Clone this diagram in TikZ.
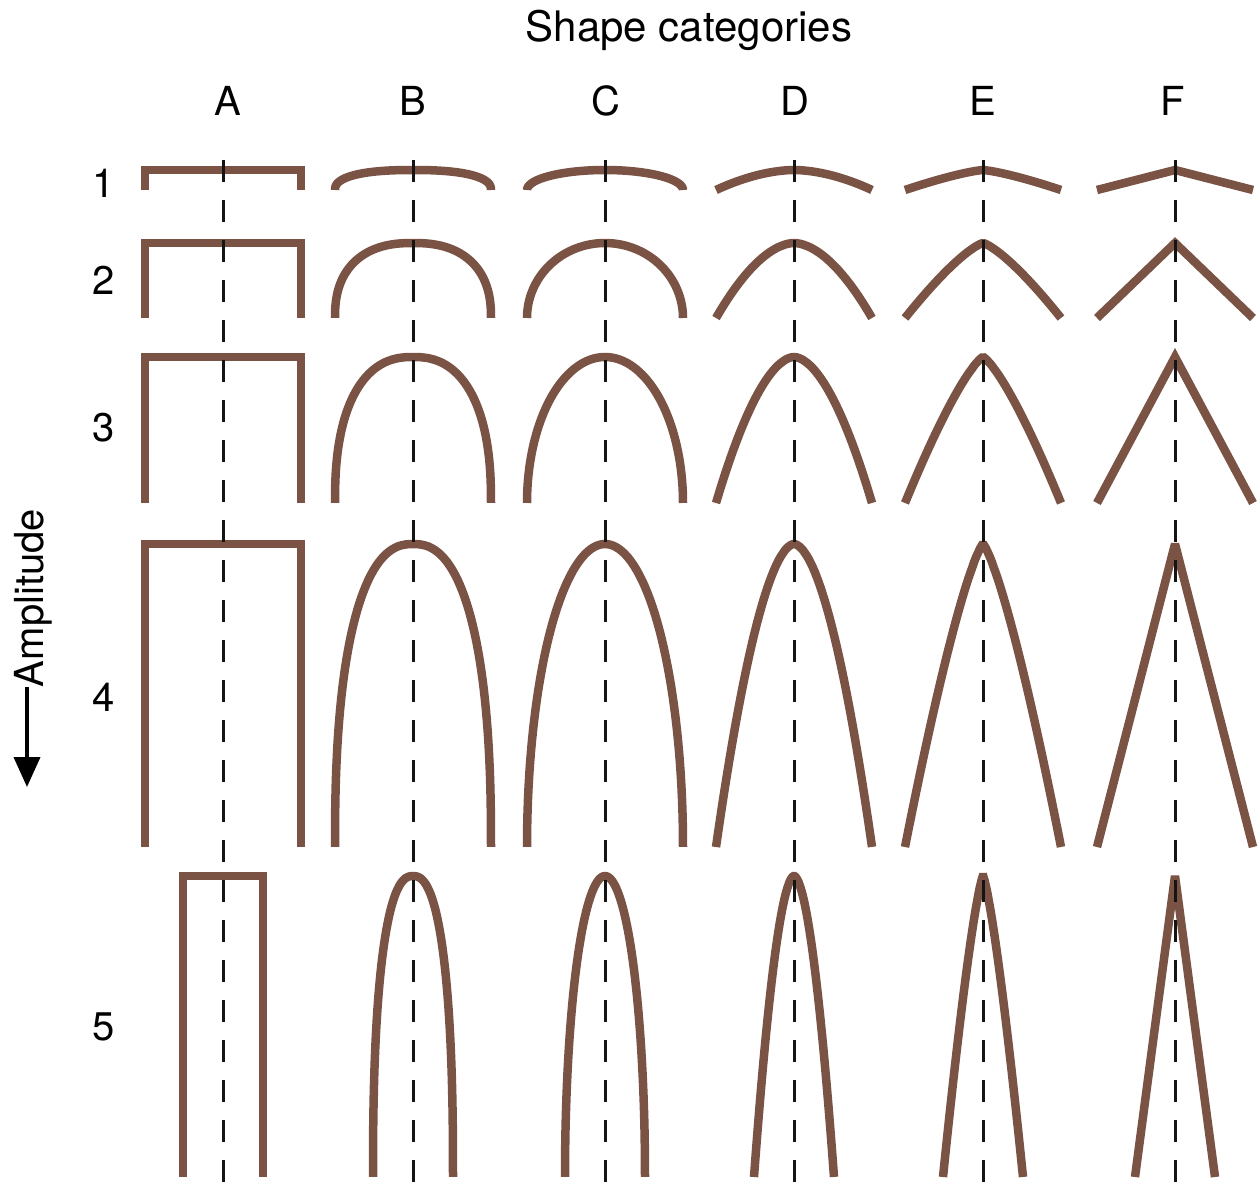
\documentclass[tikz,border=0pt]{standalone}
\usepackage{fontspec}
\setmainfont{TeX Gyre Heros}
\usepackage{tikz}
\usetikzlibrary{arrows.meta}
\definecolor{shapebrown}{HTML}{7B5344}
\definecolor{guidegrey}{HTML}{141414}
\newcommand{\lblfont}{\fontsize{40}{46}\selectfont}

\begin{document}
\begin{tikzpicture}[x=1pt, y=-1pt,
  lbl/.style={inner sep=0pt, font=\lblfont},
  shp/.style={draw=shapebrown, line width=8.5pt},
  guide/.style={draw=guidegrey, line width=3pt, dash pattern=on 22pt off 18pt},
  ampArrow/.style={line width=4pt, -{Triangle[width=26pt,length=30pt]}}
]
\useasboundingbox (0,0) rectangle (1258,1192);
% headings
\node[lbl, font=\fontsize{42}{48}\selectfont] (title) at (689,30) {Shape categories};
\foreach \c/\xc in {A/228, B/413, C/606, D/795, E/983, F/1173}
  \node[lbl] (col\c) at (\xc,101) {\c};
\foreach \r/\yr in {1/183, 2/280, 3/428, 4/697, 5/1027}
  \node[lbl] (row\r) at (104,\yr) {\r};
% amplitude axis
\node[lbl, rotate=90] (amp) at (33,598) {Amplitude};
\coordinate (ampTip) at (27,787);
\draw[ampArrow] (amp.west -| ampTip) -- (ampTip);
% shapes, one row at a time
\foreach \yt/\yb/\w in {170/190/78, 243/318/78, 357/503/78, 544/847/78, 876/1177/40} {
  \pgfmathsetmacro\h{\yb-\yt}
  % A: open box
  \draw[shp] ({223-\w},\yb) -- ({223-\w},\yt) -- ({223+\w},\yt) -- ({223+\w},\yb);
  % B, C: superellipse arches
  \foreach \cx/\n in {413/2.4, 605/2}
    \draw[shp] plot[domain=0.01:179.99, samples=80, variable=\t]
      ({\cx+\w*cos(\t)/abs(cos(\t))*pow(abs(cos(\t)),2/\n)}, {\yb-\h*pow(sin(\t),2/\n)});
  % D, E: power curves
  \foreach \cx/\p in {794/1.8, 983/1.3}
    \draw[shp] plot[domain=-1:1, samples=80, variable=\u]
      ({\cx+\w*\u}, {\yt+\h*pow(abs(\u),\p)});
  % F: straight sides
  \draw[shp, miter limit=3] ({1175-\w},\yb) -- (1175,\yt) -- ({1175+\w},\yb);
}
% centre lines
\foreach \c/\xc in {A/223, B/413, C/605, D/794, E/983, F/1175} {
  \coordinate (top\c) at (\xc,160);
  \coordinate (bot\c) at (\xc,1192);
  \draw[guide] (top\c) -- (bot\c);
}
\end{tikzpicture}
\end{document}
